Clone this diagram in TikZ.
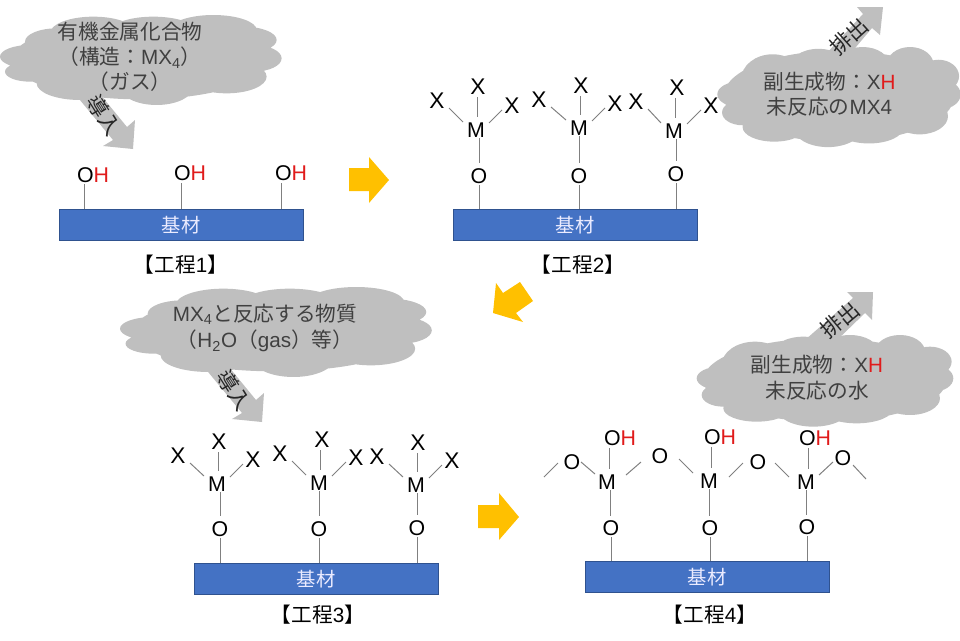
\documentclass[tikz,border=0pt]{standalone}
\usepackage{fontspec}
\setmainfont{Liberation Sans}
\newfontfamily\jp{Noto Sans CJK JP}
\usetikzlibrary{calc}
\definecolor{cloudgray}{HTML}{BFBFBF}
\definecolor{barblue}{HTML}{4472C4}
\definecolor{baredge}{HTML}{2F528F}
\definecolor{arrowyellow}{HTML}{FFC000}
\definecolor{bondgray}{HTML}{808080}
\definecolor{cloudtext}{HTML}{404040}
\definecolor{hred}{HTML}{E01B1B}
\tikzset{
  atom/.style={inner sep=0pt,font=\fontsize{16}{18}\selectfont,text=black},
  xatom/.style={inner sep=0pt,font=\fontsize{17}{18}\selectfont,text=black},
  bond/.style={draw=bondgray,line width=0.75pt},
  barbox/.style={draw=baredge,fill=barblue,line width=0.75pt,minimum width=183pt,minimum height=23.25pt,inner sep=0pt,text=white!92!blue,font=\jp\fontsize{14.5}{17}\selectfont},
  steplabel/.style={inner sep=0pt,text=black,font=\jp\fontsize{15.5}{17}\selectfont},
  cloudlabel/.style={inner sep=0pt,align=center,text=cloudtext},
  flowlabel/.style={inner sep=0pt,text=black!85,font=\jp\fontsize{16}{17}\selectfont},
  greyarrow/.style={fill=cloudgray},
  yellowarrow/.style={fill=arrowyellow},
}
\newcommand{\bondline}[4]{\draw[bond] ([shift={(#2)}]#1.center) -- ([shift={(#4)}]#3.center);}
\newcommand{\molx}[7]{%
  \node[xatom] (#1xl) at (#2) {X};
  \node[xatom] (#1xt) at (#3) {X};
  \node[xatom] (#1xr) at (#4) {X};
  \node[atom] (#1m) at (#5) {M};
  \node[atom] (#1o) at (#6) {O};
  \coordinate (#1c) at ($(#1xt)!.5!(#1m)$);
  \bondline{#1xl}{12,7}{#1m}{-13,-8}
  \bondline{#1xr}{-10,4}{#1m}{13,-7}
  \draw[bond] ([yshift=-10*0.75pt]#1c |- #1xt.center) -- ([yshift=13*0.75pt]#1c |- #1m.center);
  \draw[bond] ([yshift=-8*0.75pt]#1o |- #1m.center) -- ([yshift=13*0.75pt]#1o.center);
  \draw[bond] ([yshift=-9*0.75pt]#1o.center) -- (#1o |- #7.north);
}
\newcommand{\molo}[5]{%
  \node[atom] (#1oh) at (#2) {O\textcolor{hred}{H}};
  \node[atom] (#1m) at (#3) {M};
  \node[atom] (#1o) at (#4) {O};
  \draw[bond] ([xshift=2*0.75pt,yshift=-10*0.75pt]#1m |- #1oh.center) -- ([xshift=2*0.75pt,yshift=13*0.75pt]#1m.center);
  \draw[bond] ([xshift=-1*0.75pt,yshift=-8*0.75pt]#1o |- #1m.center) -- ([xshift=-1*0.75pt,yshift=12*0.75pt]#1o.center);
  \draw[bond] ([yshift=-9*0.75pt]#1o.center) -- (#1o |- #5.north);
}
\newcommand{\cloudA}{%
  \fill[cloudgray]
   (90,170) ellipse (90 and 35) (90,215) ellipse (75 and 30) (240,250) ellipse (130 and 50)
   (470,260) ellipse (110 and 55) (680,230) ellipse (120 and 50) (760,175) ellipse (85 and 40)
   (730,120) ellipse (100 and 40) (640,90) ellipse (130 and 45) (460,95) ellipse (130 and 45)
   (280,100) ellipse (130 and 50) (170,125) ellipse (95 and 40) (420,180) ellipse (385 and 118);
}
\newcommand{\cloudB}{%
  \fill[cloudgray]
   (90,280) ellipse (70 and 35) (100,330) ellipse (65 and 35) (195,240) ellipse (100 and 70)
   (340,210) ellipse (95 and 55) (480,200) ellipse (85 and 50) (630,200) ellipse (75 and 50)
   (720,230) ellipse (65 and 45) (730,280) ellipse (60 and 40) (660,340) ellipse (90 and 50)
   (500,370) ellipse (110 and 45) (370,370) ellipse (110 and 55) (200,370) ellipse (100 and 40)
   (405,285) ellipse (365 and 125);
}
\begin{document}
\begin{tikzpicture}[x=0.75pt,y=-0.75pt]
\useasboundingbox (0,0) rectangle (960,640);
\begin{scope}
\clip (0,0) rectangle (960,640);
% grey flow arrows (under the clouds)
\fill[greyarrow] (70,88) -- (113,140) -- (103,146) -- (133,149) -- (135,120) -- (127,127) -- (95,88) -- cycle;
\fill[greyarrow] (199,361) -- (242,413) -- (232,419) -- (262,422) -- (264,393) -- (256,400) -- (224,361) -- cycle;
\fill[greyarrow] (825,55) -- (863,14) -- (857,7) -- (883,7) -- (880,35) -- (872,28) -- (845,60) -- cycle;
\fill[greyarrow] (805,340) -- (853,298) -- (847,292) -- (873,292) -- (872,320) -- (865,313) -- (835,342) -- cycle;
% clouds
\begin{scope}[shift={(0,0)},xscale=0.3333,yscale=0.3333]\cloudA\end{scope}
\begin{scope}[shift={(120,272)},xscale=0.369,yscale=0.3333]\cloudA\end{scope}
\begin{scope}[shift={(711,-7.6)},xscale=0.316,yscale=0.364]\cloudB\end{scope}
\begin{scope}[shift={(690,285)},xscale=0.3333,yscale=0.3333]\cloudB\end{scope}
\end{scope}
% cloud texts
\node[cloudlabel,font=\fontsize{15.5}{18.75}\selectfont] (c1) at (130,57) {\jp 有機金属化合物\\\jp （構造：{\rmfamily MX\textsubscript{4}}）\\\jp （ガス）};
\node[cloudlabel,font=\fontsize{15.5}{18.75}\selectfont] (c2) at (829.5,94.5) {\jp 副生成物：{\rmfamily X\textcolor{hred}{H}}\\\jp 未反応の{\rmfamily MX4}};
\node[cloudlabel,font=\fontsize{15.5}{20}\selectfont] (c3) at (265,328) {{\rmfamily MX\textsubscript{4}}\jp と反応する物質\\\jp （{\rmfamily H\textsubscript{2}O}（{\rmfamily gas}）等）};
\node[cloudlabel,font=\fontsize{15.5}{19.5}\selectfont] (c4) at (817,378) {\jp 副生成物：{\rmfamily X\textcolor{hred}{H}}\\\jp 未反応の水};
% flow labels
\node[flowlabel,rotate=-58] (f1) at (104,115) {導入};
\node[flowlabel,rotate=-58] (f3) at (234,390) {導入};
\node[flowlabel,rotate=42] (f2) at (849,36) {排出};
\node[flowlabel,rotate=40] (f4) at (840,320) {排出};
% yellow arrows
\fill[yellowarrow] (349,168) -- (369,168) -- (369,157) -- (389,180) -- (369,203) -- (369,191) -- (349,191) -- cycle;
\fill[yellowarrow] (520,282) -- (533,301) -- (516,313) -- (523,322) -- (493,313) -- (496,283) -- (503,293) -- cycle;
\fill[yellowarrow] (478,505) -- (499,505) -- (499,493) -- (519,517) -- (499,540) -- (499,528) -- (478,528) -- cycle;
% step 1 bonds' atoms
\node[atom] (a1) at (93,175) {O\textcolor{hred}{H}};
\node[atom] (a2) at (190,173) {O\textcolor{hred}{H}};
\node[atom] (a3) at (291,173) {O\textcolor{hred}{H}};
% bars
\node[barbox] (bar1) at (181,225) {基材};
\node[barbox] (bar2) at (575,225) {基材};
\node[barbox] (bar3) at (316,579) {基材};
\node[barbox] (bar4) at (707,577) {基材};
% step labels
\node[steplabel] (s1) at (181,265) {【工程{\rmfamily 1}】};
\node[steplabel] (s2) at (578,265) {【工程{\rmfamily 2}】};
\node[steplabel] (s3) at (318,615) {【工程{\rmfamily 3}】};
\node[steplabel] (s4) at (710,615) {【工程{\rmfamily 4}】};
% step 1
\draw[bond] ([shift={(-9,9)}]a1.center) -- ([xshift=-9*0.75pt]a1.center |- bar1.north);
\draw[bond] ([shift={(-9,10)}]a2.center) -- ([xshift=-9*0.75pt]a2.center |- bar1.north);
\draw[bond] ([shift={(-10,10)}]a3.center) -- ([xshift=-10*0.75pt]a3.center |- bar1.north);
% step 2
\molx{p}{437,101}{478,87}{512,106}{476,130}{479,176}{bar2}
\molx{q}{539,100}{581,86}{615,104}{579,128}{579,176}{bar2}
\molx{r}{636,102}{677,88}{711,106}{674,131}{676,174}{bar2}
% step 3
\molx{t}{178,456}{219,442}{253,460}{217,484}{220,529}{bar3}
\molx{u}{280,454}{322,440}{356,458}{319,483}{319,529}{bar3}
\molx{v}{377,457}{418,443}{452,461}{416,485}{417,528}{bar3}
% step 4
\molo{w}{620,438}{607,482}{611,528}{bar4}
\molo{y}{720,437}{709,481}{710,528}{bar4}
\molo{z}{815,438}{806,482}{807,527}{bar4}
\node[atom] (oa) at (572,462) {O};
\node[atom] (ob) at (660,456) {O};
\node[atom] (oc) at (758,462) {O};
\node[atom] (od) at (843,458) {O};
\coordinate (ea) at (544,477);
\coordinate (eb) at (866,479);
\draw[bond] (ea) -- ([shift={(-14,1)}]oa.center);
\bondline{oa}{9,0}{wm}{-12,-8}
\bondline{wm}{19,-7}{ob}{-19,6}
\bondline{ob}{19,3}{ym}{-16,-8}
\bondline{ym}{20,-4}{oc}{-15,1}
\bondline{oc}{17,1}{zm}{-17,-5}
\bondline{zm}{13,-7}{od}{-10,4}
\draw[bond] ([shift={(10,7)}]od.center) -- (eb);
\end{tikzpicture}
\end{document}
